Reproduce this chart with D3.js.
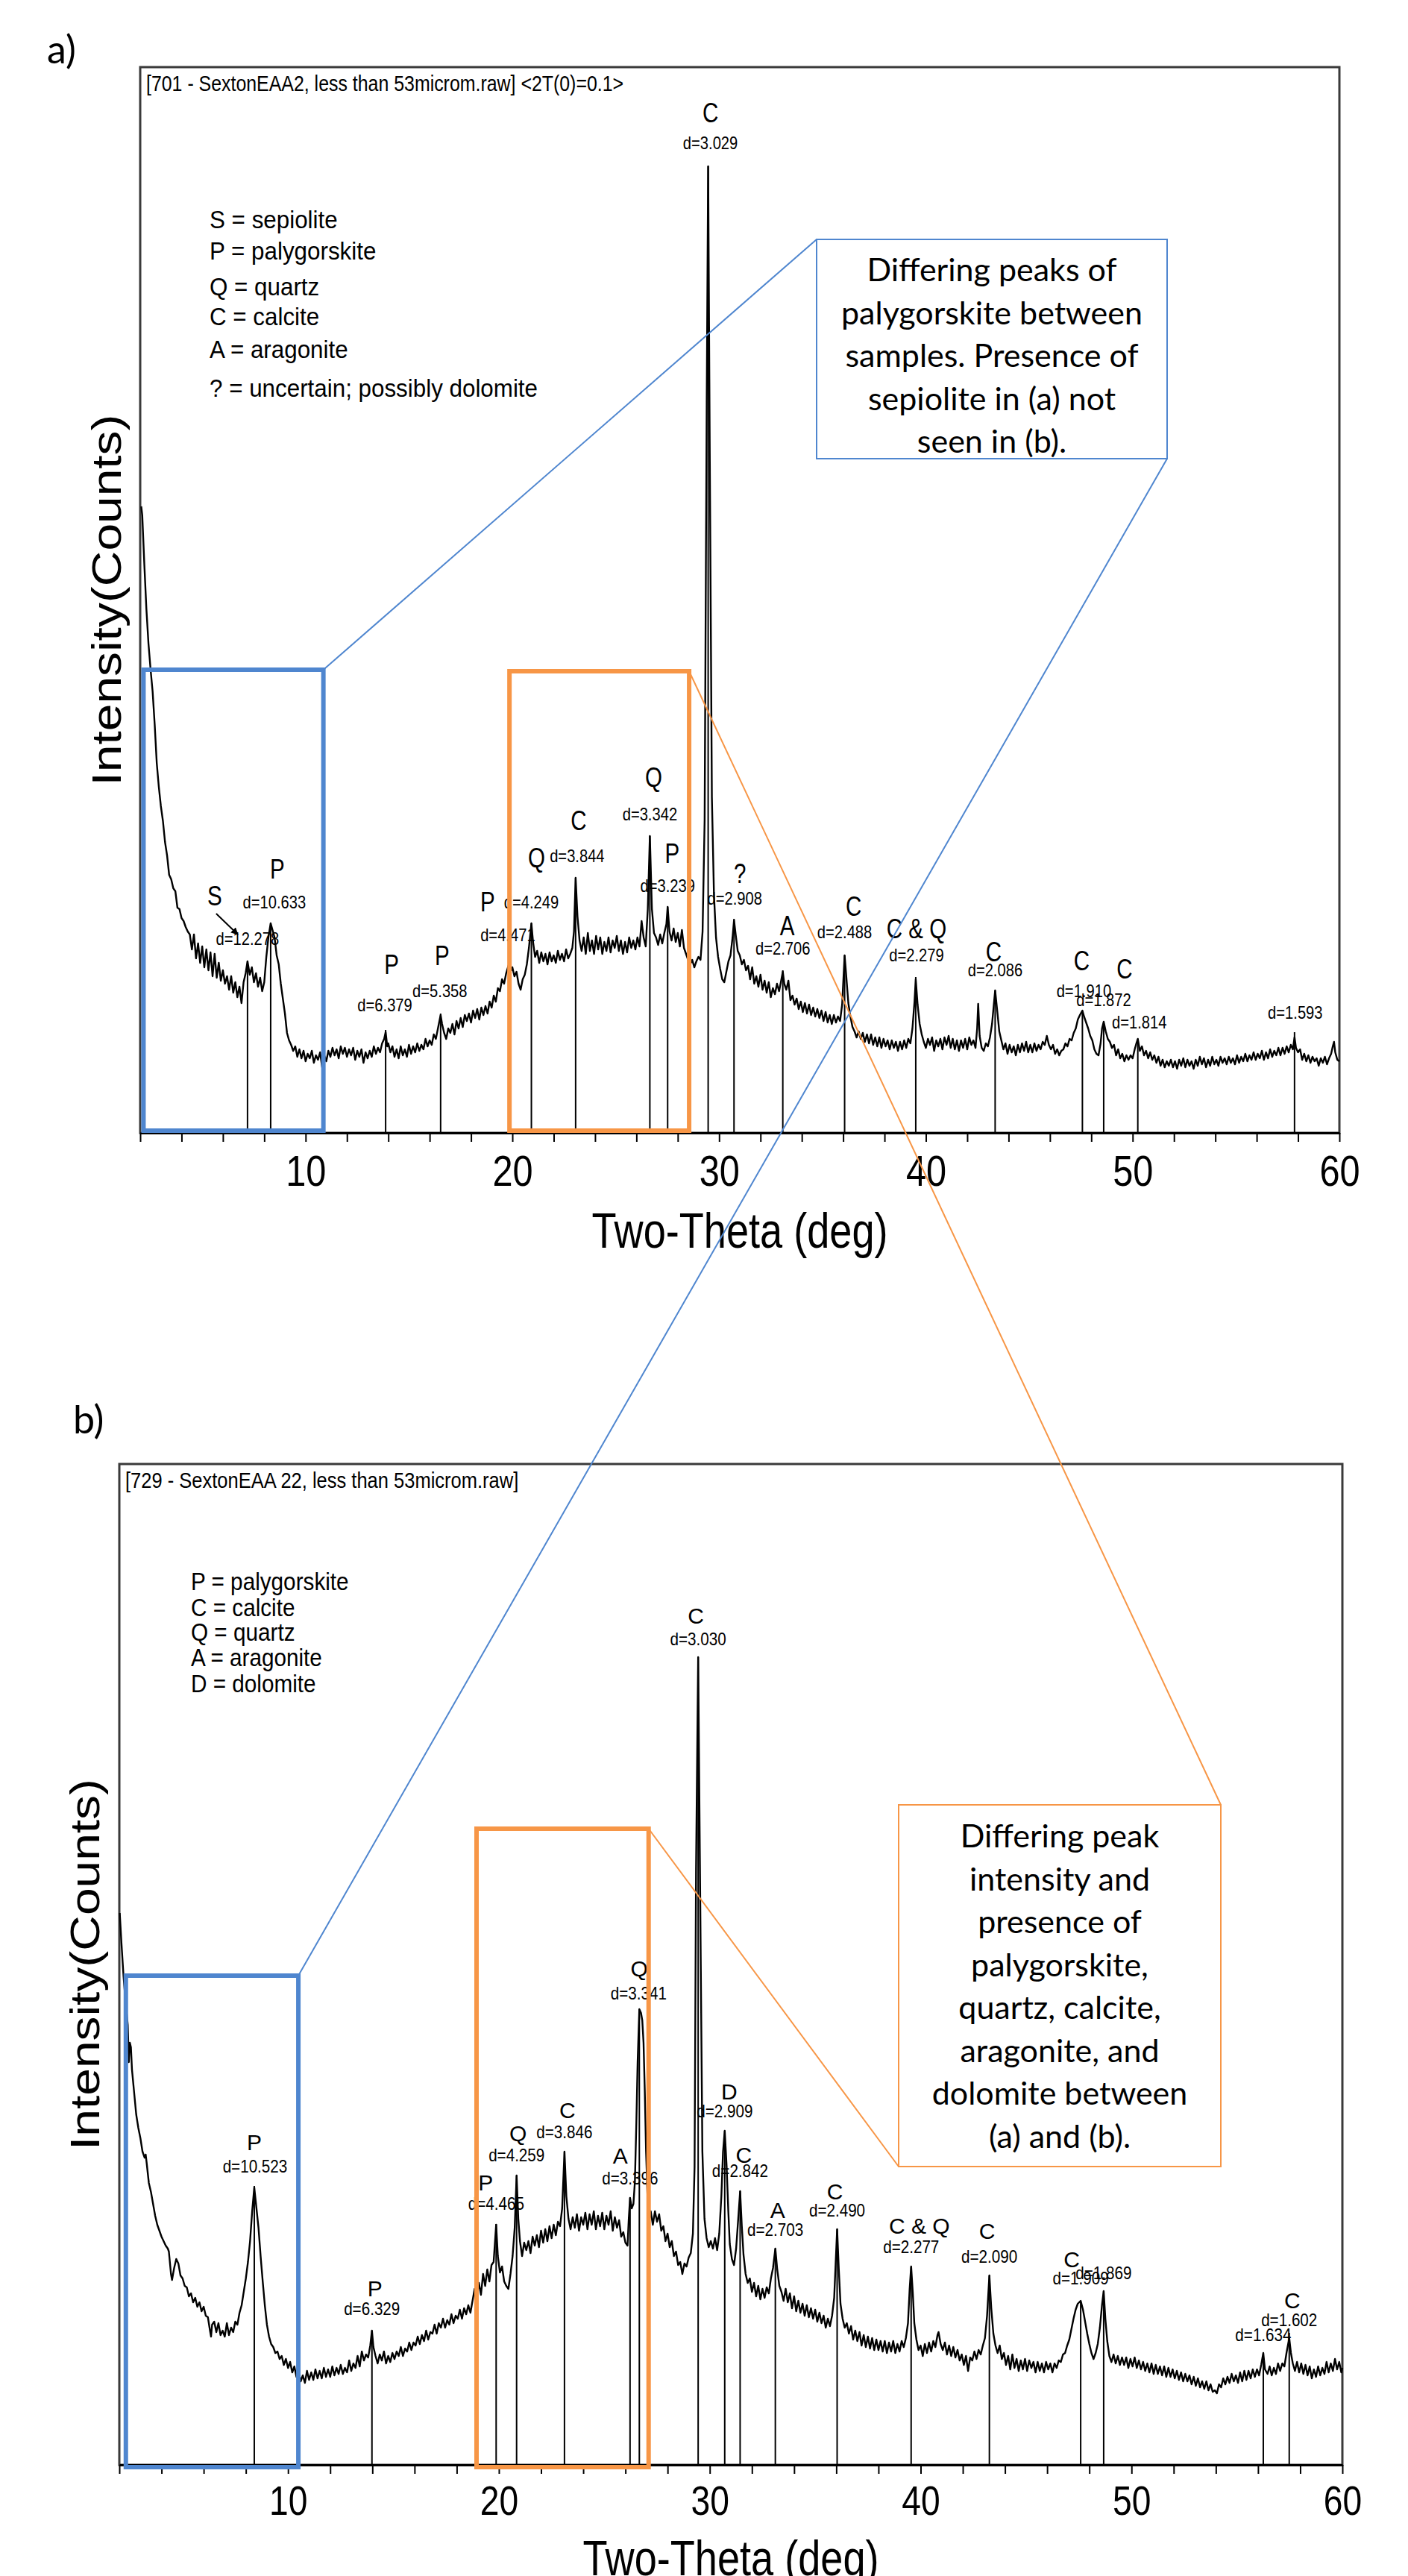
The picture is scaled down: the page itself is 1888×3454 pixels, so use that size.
<!DOCTYPE html>
<html>
<head>
<meta charset="utf-8">
<script src="https://cdn.jsdelivr.net/npm/d3@7"></script>
<style>
  body { margin: 0; background: #fff; }
  svg { display: block; }
</style>
</head>
<body>
<div id="chart"></div>
<script>
// ---- data (counts are arbitrary units) ----
const minorTicks = [2,4,6,8,10,12,14,16,18,20,22,24,26,28,30,32,34,36,38,40,42,44,46,48,50,52,54,56,58,60];
const tickLabels = [10, 20, 30, 40, 50, 60];

// sample a) [2theta, counts]
const scanA = [
  [2.05,840],[2.1,828],[2.2,762],[2.3,702],[2.4,656],[2.5,622],[2.6,592],[2.7,548],[2.8,496],[2.9,464],
  [3.0,438],[3.1,418],[3.2,390],[3.3,372],[3.4,346],[3.5,340],[3.6,328],[3.7,324],[3.8,302],[3.9,300],
  [4.0,288],[4.1,284],[4.2,276],[4.3,270],[4.4,266],[4.5,246],[4.6,266],[4.7,234],[4.8,254],[4.9,228],
  [5.0,250],[5.1,222],[5.2,246],[5.3,218],[5.4,242],[5.5,210],[5.6,240],[5.7,208],[5.8,228],[5.9,204],
  [6.0,218],[6.1,200],[6.2,210],[6.3,192],[6.4,210],[6.5,188],[6.6,202],[6.7,182],[6.8,196],[6.9,174],
  [7.0,202],[7.1,214],[7.19,230],[7.3,212],[7.4,222],[7.5,202],[7.6,214],[7.7,196],[7.8,208],[7.9,190],
  [8.0,202],[8.1,236],[8.2,262],[8.31,281],[8.4,272],[8.5,262],[8.6,238],[8.7,226],[8.8,200],[8.9,180],
  [9.0,160],[9.1,134],[9.2,124],[9.3,118],[9.4,110],[9.5,116],[9.6,102],[9.7,112],[9.8,100],[9.9,110],
  [10.0,96],[10.1,106],[10.2,100],[10.3,110],[10.4,94],[10.5,104],[10.6,98],[10.7,108],[10.8,88],[10.9,104],
  [11.0,96],[11.1,110],[11.2,102],[11.3,114],[11.4,104],[11.5,112],[11.6,100],[11.7,116],[11.8,106],[11.9,114],
  [12.0,102],[12.1,112],[12.2,104],[12.3,114],[12.4,98],[12.5,110],[12.6,102],[12.7,112],[12.8,94],[12.9,108],
  [13.0,100],[13.1,110],[13.2,102],[13.3,116],[13.4,106],[13.5,114],[13.6,108],[13.7,120],[13.8,126],[13.87,135],
  [13.95,116],[14.0,120],[14.1,108],[14.2,116],[14.3,102],[14.4,112],[14.5,100],[14.6,116],[14.7,104],[14.8,112],
  [14.9,102],[15.0,118],[15.1,106],[15.2,116],[15.3,108],[15.4,120],[15.5,110],[15.6,118],[15.7,112],[15.8,126],
  [15.9,116],[16.0,124],[16.1,118],[16.2,132],[16.3,126],[16.4,140],[16.53,158],[16.6,146],[16.7,134],[16.8,126],
  [16.9,140],[17.0,134],[17.1,146],[17.2,132],[17.3,150],[17.4,140],[17.5,154],[17.6,142],[17.7,158],[17.8,150],
  [17.9,160],[18.0,148],[18.1,164],[18.2,154],[18.3,166],[18.4,152],[18.5,168],[18.6,158],[18.7,170],[18.8,160],
  [18.9,176],[19.0,168],[19.1,184],[19.2,176],[19.3,194],[19.4,190],[19.5,206],[19.6,200],[19.7,214],[19.85,228],
  [19.95,218],[20.0,222],[20.1,210],[20.2,216],[20.3,200],[20.4,192],[20.5,206],[20.6,212],[20.7,226],[20.8,248],
  [20.92,281],[21.0,256],[21.1,236],[21.2,244],[21.3,228],[21.4,242],[21.5,230],[21.6,240],[21.7,226],[21.8,242],
  [21.9,230],[22.0,238],[22.1,228],[22.2,244],[22.3,232],[22.4,240],[22.5,230],[22.6,246],[22.7,234],[22.8,240],
  [22.9,248],[22.98,270],[23.06,342],[23.15,290],[23.25,258],[23.35,244],[23.45,262],[23.55,240],[23.65,268],[23.75,244],
  [23.85,258],[23.95,240],[24.05,264],[24.15,246],[24.25,262],[24.35,240],[24.45,256],[24.55,244],[24.65,262],[24.75,242],
  [24.85,258],[24.95,248],[25.05,264],[25.15,244],[25.25,258],[25.35,240],[25.45,256],[25.55,242],[25.65,262],[25.75,248],
  [25.85,258],[25.95,246],[26.05,262],[26.15,250],[26.25,284],[26.35,262],[26.45,250],[26.55,300],[26.65,398],[26.75,300],
  [26.85,268],[26.95,262],[27.05,252],[27.15,266],[27.25,254],[27.35,268],[27.45,280],[27.51,303],[27.6,270],[27.7,258],
  [27.8,274],[27.9,256],[28.0,268],[28.1,250],[28.2,272],[28.3,248],[28.4,240],[28.5,232],[28.6,226],[28.7,232],
  [28.8,222],[28.9,230],[29.0,236],[29.1,232],[29.2,270],[29.3,420],[29.4,980],[29.47,1296],[29.55,900],[29.65,450],
  [29.75,320],[29.85,262],[29.95,236],[30.05,220],[30.15,206],[30.25,202],[30.35,216],[30.45,230],[30.55,238],[30.65,262],
  [30.72,285],[30.8,266],[30.9,244],[31.0,238],[31.1,226],[31.2,232],[31.3,218],[31.4,224],[31.5,206],[31.6,222],
  [31.7,200],[31.8,210],[31.9,196],[32.0,212],[32.1,192],[32.2,204],[32.3,188],[32.4,202],[32.5,182],[32.6,194],
  [32.7,186],[32.8,200],[32.9,190],[33.0,204],[33.08,216],[33.15,200],[33.25,192],[33.35,204],[33.45,178],[33.55,184],
  [33.65,172],[33.75,180],[33.85,166],[33.95,176],[34.05,162],[34.15,174],[34.25,160],[34.35,172],[34.45,158],[34.55,168],
  [34.65,156],[34.75,166],[34.85,154],[34.95,164],[35.05,150],[35.15,162],[35.25,148],[35.35,158],[35.45,146],[35.55,158],
  [35.65,148],[35.75,156],[35.85,150],[35.95,172],[36.07,238],[36.15,210],[36.25,174],[36.35,156],[36.45,142],[36.55,136],
  [36.65,128],[36.75,136],[36.85,126],[36.95,134],[37.05,122],[37.15,132],[37.25,120],[37.35,132],[37.45,118],[37.55,128],
  [37.65,116],[37.75,128],[37.85,114],[37.95,126],[38.05,116],[38.15,124],[38.25,112],[38.35,124],[38.45,114],[38.55,122],
  [38.65,110],[38.75,122],[38.85,112],[38.95,124],[39.05,114],[39.15,126],[39.25,120],[39.35,140],[39.45,176],[39.51,206],
  [39.6,172],[39.7,146],[39.8,132],[39.9,122],[40.0,114],[40.1,126],[40.2,118],[40.3,128],[40.4,110],[40.5,124],
  [40.6,116],[40.7,126],[40.8,112],[40.9,128],[41.0,118],[41.1,130],[41.2,114],[41.3,126],[41.4,112],[41.5,124],
  [41.6,110],[41.7,124],[41.8,114],[41.9,126],[42.0,112],[42.1,128],[42.2,118],[42.3,124],[42.4,114],[42.48,140],
  [42.53,173],[42.6,130],[42.7,114],[42.8,110],[42.9,120],[43.0,116],[43.1,128],[43.2,146],[43.28,170],[43.35,191],
  [43.45,164],[43.55,136],[43.65,124],[43.75,112],[43.85,120],[43.95,106],[44.05,118],[44.15,108],[44.25,116],[44.35,104],
  [44.45,118],[44.55,108],[44.65,120],[44.75,110],[44.85,122],[44.95,108],[45.05,118],[45.15,108],[45.25,120],[45.35,110],
  [45.45,118],[45.55,112],[45.65,122],[45.75,118],[45.85,130],[45.95,118],[46.05,112],[46.15,118],[46.25,106],[46.35,112],
  [46.45,104],[46.55,110],[46.65,112],[46.75,120],[46.85,116],[46.95,126],[47.05,124],[47.15,134],[47.25,140],[47.35,152],
  [47.45,158],[47.57,164],[47.65,156],[47.75,148],[47.85,140],[47.95,130],[48.05,124],[48.15,112],[48.25,106],[48.35,104],
  [48.45,120],[48.52,140],[48.6,149],[48.7,136],[48.8,126],[48.9,122],[49.0,114],[49.1,118],[49.2,104],[49.3,112],
  [49.4,100],[49.5,106],[49.6,96],[49.7,104],[49.8,98],[49.9,104],[50.0,100],[50.1,112],[50.18,120],[50.25,126],
  [50.35,110],[50.45,116],[50.55,104],[50.65,110],[50.75,100],[50.85,108],[50.95,98],[51.05,104],[51.15,94],[51.25,102],
  [51.35,90],[51.45,98],[51.55,88],[51.65,96],[51.75,90],[51.85,98],[51.95,88],[52.05,96],[52.15,86],[52.25,98],
  [52.35,90],[52.45,100],[52.55,88],[52.65,98],[52.75,90],[52.85,96],[52.95,86],[53.05,98],[53.15,90],[53.25,102],
  [53.35,92],[53.45,100],[53.55,88],[53.65,98],[53.75,90],[53.85,102],[53.95,92],[54.05,98],[54.15,90],[54.25,102],
  [54.35,94],[54.45,100],[54.55,92],[54.65,102],[54.75,94],[54.85,100],[54.95,92],[55.05,104],[55.15,94],[55.25,102],
  [55.35,96],[55.45,106],[55.55,96],[55.65,104],[55.75,98],[55.85,108],[55.95,98],[56.05,106],[56.15,100],[56.25,110],
  [56.35,98],[56.45,108],[56.55,100],[56.65,112],[56.75,102],[56.85,110],[56.95,104],[57.05,114],[57.15,104],[57.25,114],
  [57.35,106],[57.45,116],[57.55,108],[57.65,118],[57.75,112],[57.83,128],[57.9,114],[58.0,108],[58.1,112],[58.2,98],
  [58.3,106],[58.4,96],[58.5,104],[58.6,94],[58.7,102],[58.8,96],[58.9,100],[59.0,90],[59.1,100],[59.2,94],
  [59.3,102],[59.4,92],[59.5,100],[59.6,106],[59.68,116],[59.74,122],[59.8,108],[59.9,98],[60.0,96]
];
const peakThetaA = [7.19, 8.31, 13.87, 16.53, 19.85, 20.92, 23.06, 26.65, 27.51, 29.47, 30.72, 33.08, 36.07, 39.51, 43.35, 47.57, 48.6, 50.25, 57.83];
const peakCountsA = [230, 281, 138, 160, 232, 281, 342, 398, 303, 1296, 287, 218, 238, 209, 191, 164, 149, 126, 135];
const peakPhaseA = ["S", "P", "P", "P", "P", "Q", "C", "Q", "P", "C", "?", "A", "C", "C & Q", "C", "C", "C", "", ""];
const peakDA = ["12.278", "10.633", "6.379", "5.358", "4.471", "4.249", "3.844", "3.342", "3.239", "3.029", "2.908", "2.706", "2.488", "2.279", "2.086", "1.910", "1.872", "1.814", "1.593"];
const legendA = ["S = sepiolite", "P = palygorskite", "Q = quartz", "C = calcite", "A = aragonite", "? = uncertain; possibly dolomite"];
const titleA = "[701 - SextonEAA2, less than 53microm.raw] <2T(0)=0.1>";
const calloutTextA = ["Differing peaks of", "palygorskite between", "samples. Presence of", "sepiolite in (a) not", "seen in (b)."];

// sample b) [2theta, counts]
const scanB = [
  [2.02,740],[2.1,700],[2.2,655],[2.3,620],[2.4,590],[2.45,540],[2.5,566],[2.55,560],[2.6,530],[2.7,500],
  [2.8,470],[2.9,452],[3.0,438],[3.1,420],[3.2,412],[3.25,416],[3.3,404],[3.4,378],[3.5,366],[3.6,350],
  [3.7,334],[3.8,322],[3.9,314],[4.0,306],[4.1,300],[4.2,294],[4.3,290],[4.35,286],[4.45,256],[4.5,248],
  [4.6,264],[4.7,276],[4.8,270],[4.9,254],[5.0,250],[5.1,240],[5.2,238],[5.3,226],[5.4,230],[5.5,218],
  [5.6,224],[5.7,212],[5.8,218],[5.9,206],[6.0,212],[6.1,200],[6.2,198],[6.3,180],[6.35,172],[6.4,188],
  [6.5,192],[6.6,178],[6.7,190],[6.8,174],[6.9,180],[7.0,172],[7.1,190],[7.2,174],[7.3,184],[7.4,178],
  [7.5,192],[7.6,188],[7.7,204],[7.8,214],[7.9,232],[8.0,250],[8.1,272],[8.2,300],[8.3,340],[8.4,372],
  [8.5,345],[8.6,318],[8.7,280],[8.8,246],[8.9,214],[9.0,188],[9.1,172],[9.2,162],[9.3,158],[9.4,150],
  [9.5,152],[9.6,142],[9.7,146],[9.8,134],[9.9,142],[10.0,130],[10.1,138],[10.2,124],[10.3,132],[10.4,118],
  [10.5,126],[10.6,112],[10.7,120],[10.8,110],[10.9,126],[11.0,114],[11.1,124],[11.2,114],[11.3,128],[11.4,116],
  [11.5,126],[11.6,116],[11.7,130],[11.8,118],[11.9,128],[12.0,118],[12.1,132],[12.2,120],[12.3,130],[12.4,122],
  [12.5,134],[12.6,122],[12.7,130],[12.8,124],[12.9,140],[13.0,126],[13.1,136],[13.2,130],[13.3,146],[13.4,132],
  [13.5,152],[13.6,140],[13.7,148],[13.8,144],[13.9,160],[13.98,180],[14.05,158],[14.15,146],[14.25,136],[14.35,148],
  [14.45,140],[14.55,152],[14.65,136],[14.75,146],[14.85,138],[14.95,150],[15.05,142],[15.15,152],[15.25,146],[15.35,158],
  [15.45,146],[15.55,156],[15.65,152],[15.75,164],[15.85,154],[15.95,164],[16.05,160],[16.15,172],[16.25,162],[16.35,174],
  [16.45,166],[16.55,180],[16.65,168],[16.75,178],[16.85,176],[16.95,188],[17.05,176],[17.15,190],[17.25,184],[17.35,196],
  [17.45,184],[17.55,194],[17.65,188],[17.75,202],[17.85,190],[17.95,200],[18.05,196],[18.15,208],[18.25,196],[18.35,210],
  [18.45,202],[18.55,214],[18.65,204],[18.75,220],[18.85,236],[18.95,226],[19.05,244],[19.15,228],[19.25,256],[19.35,240],
  [19.45,262],[19.55,246],[19.65,268],[19.75,272],[19.87,322],[19.95,280],[20.05,258],[20.15,266],[20.25,246],[20.35,240],
  [20.45,236],[20.55,256],[20.65,280],[20.75,318],[20.84,388],[20.92,330],[21.0,300],[21.1,280],[21.2,298],[21.3,288],
  [21.4,300],[21.5,284],[21.6,306],[21.7,294],[21.8,308],[21.9,292],[22.0,314],[22.1,298],[22.2,316],[22.3,300],
  [22.4,320],[22.5,304],[22.6,322],[22.7,308],[22.8,326],[22.9,320],[23.0,344],[23.11,420],[23.2,360],[23.3,330],
  [23.4,316],[23.5,332],[23.6,318],[23.7,336],[23.8,314],[23.9,332],[24.0,322],[24.1,338],[24.2,316],[24.3,336],
  [24.4,322],[24.5,340],[24.6,316],[24.7,334],[24.8,320],[24.9,338],[25.0,316],[25.1,334],[25.2,322],[25.3,340],
  [25.4,314],[25.5,332],[25.6,318],[25.7,328],[25.8,306],[25.9,312],[26.0,298],[26.1,294],[26.16,330],[26.22,358],
  [26.3,344],[26.38,350],[26.45,380],[26.52,460],[26.58,540],[26.66,611],[26.74,606],[26.8,596],[26.86,566],[26.92,500],
  [26.98,420],[27.05,360],[27.12,326],[27.2,340],[27.3,322],[27.4,340],[27.5,326],[27.6,336],[27.7,314],[27.8,320],
  [27.9,300],[28.0,310],[28.1,292],[28.2,300],[28.3,280],[28.4,286],[28.5,268],[28.6,272],[28.7,256],[28.8,270],
  [28.9,266],[29.0,278],[29.1,284],[29.2,310],[29.28,400],[29.35,800],[29.45,1083],[29.55,750],[29.65,420],[29.75,330],
  [29.85,304],[29.95,292],[30.05,300],[30.15,290],[30.25,304],[30.35,288],[30.45,310],[30.55,360],[30.63,420],[30.71,448],
  [30.8,400],[30.88,340],[30.95,296],[31.05,276],[31.15,268],[31.25,290],[31.35,330],[31.44,367],[31.52,320],[31.6,282],
  [31.7,256],[31.8,244],[31.9,250],[32.0,232],[32.1,244],[32.2,226],[32.3,240],[32.4,222],[32.5,236],[32.6,224],
  [32.7,238],[32.8,230],[32.9,250],[33.0,264],[33.11,290],[33.2,262],[33.3,240],[33.4,232],[33.5,220],[33.6,236],
  [33.7,218],[33.8,230],[33.9,210],[34.0,226],[34.1,206],[34.2,220],[34.3,204],[34.4,216],[34.5,200],[34.6,214],
  [34.7,198],[34.8,210],[34.9,196],[35.0,208],[35.1,192],[35.2,204],[35.3,190],[35.4,200],[35.5,184],[35.6,196],
  [35.7,186],[35.8,200],[35.9,224],[35.97,270],[36.04,316],[36.12,262],[36.2,216],[36.3,196],[36.4,184],[36.5,190],
  [36.6,176],[36.7,186],[36.8,168],[36.9,180],[37.0,166],[37.1,178],[37.2,160],[37.3,174],[37.4,158],[37.5,172],
  [37.6,156],[37.7,170],[37.8,154],[37.9,168],[38.0,154],[38.1,166],[38.2,152],[38.3,166],[38.4,150],[38.5,164],
  [38.6,152],[38.7,166],[38.8,150],[38.9,162],[39.0,152],[39.1,166],[39.2,158],[39.3,170],[39.4,190],[39.48,236],
  [39.55,266],[39.63,230],[39.7,190],[39.8,168],[39.9,154],[40.0,160],[40.1,146],[40.2,162],[40.3,150],[40.4,164],
  [40.5,152],[40.6,166],[40.7,158],[40.8,174],[40.85,178],[40.95,162],[41.05,154],[41.15,164],[41.25,148],[41.35,160],
  [41.45,146],[41.55,158],[41.65,144],[41.75,154],[41.85,140],[41.95,148],[42.05,134],[42.15,146],[42.25,126],[42.35,144],
  [42.45,140],[42.55,152],[42.65,142],[42.75,154],[42.85,148],[42.95,160],[43.05,170],[43.15,200],[43.26,254],[43.35,210],
  [43.45,176],[43.55,160],[43.65,150],[43.75,160],[43.85,142],[43.95,150],[44.05,134],[44.15,146],[44.25,128],[44.35,148],
  [44.45,130],[44.55,142],[44.65,126],[44.75,140],[44.85,128],[44.95,142],[45.05,126],[45.15,140],[45.25,130],[45.35,138],
  [45.45,124],[45.55,138],[45.65,126],[45.75,136],[45.85,124],[45.95,138],[46.05,128],[46.15,136],[46.25,124],[46.35,136],
  [46.45,130],[46.55,140],[46.65,138],[46.75,148],[46.85,150],[46.95,160],[47.05,168],[47.15,182],[47.25,196],[47.35,208],
  [47.45,216],[47.59,220],[47.7,208],[47.8,192],[47.9,176],[48.0,162],[48.1,150],[48.2,142],[48.3,150],[48.4,162],
  [48.5,184],[48.6,214],[48.68,233],[48.76,196],[48.85,166],[48.95,146],[49.05,138],[49.15,148],[49.25,136],[49.35,146],
  [49.45,134],[49.55,144],[49.65,134],[49.75,144],[49.85,130],[49.95,142],[50.05,132],[50.15,144],[50.25,130],[50.35,140],
  [50.45,128],[50.55,138],[50.65,126],[50.75,136],[50.85,124],[50.95,136],[51.05,122],[51.15,134],[51.25,122],[51.35,132],
  [51.45,120],[51.55,132],[51.65,118],[51.75,130],[51.85,118],[51.95,128],[52.05,116],[52.15,126],[52.25,114],[52.35,124],
  [52.45,112],[52.55,122],[52.65,112],[52.75,120],[52.85,108],[52.95,118],[53.05,106],[53.15,116],[53.25,104],[53.35,112],
  [53.45,102],[53.55,112],[53.65,100],[53.75,108],[53.85,98],[53.95,100],[54.05,96],[54.15,108],[54.25,104],[54.35,116],
  [54.45,108],[54.55,118],[54.65,110],[54.75,122],[54.85,112],[54.95,120],[55.05,110],[55.15,124],[55.25,112],[55.35,126],
  [55.45,114],[55.55,126],[55.65,116],[55.75,128],[55.85,118],[55.95,128],[56.05,120],[56.15,134],[56.25,150],[56.33,128],
  [56.45,122],[56.55,132],[56.65,120],[56.75,130],[56.85,122],[56.95,136],[57.05,126],[57.15,136],[57.25,132],[57.35,150],
  [57.48,170],[57.56,150],[57.65,136],[57.75,126],[57.85,138],[57.95,124],[58.05,136],[58.15,122],[58.25,134],[58.35,120],
  [58.45,132],[58.55,116],[58.65,128],[58.75,118],[58.85,132],[58.95,120],[59.05,130],[59.15,122],[59.25,138],[59.35,124],
  [59.45,136],[59.55,126],[59.65,142],[59.75,128],[59.85,138],[59.95,124],[60.0,130]
];
const peakThetaB = [8.40, 13.98, 19.87, 20.84, 23.11, 26.22, 26.66, 29.45, 30.71, 31.44, 33.11, 36.04, 39.55, 43.26, 47.59, 48.68, 56.25, 57.48];
const peakCountsB = [374, 180, 323, 388, 420, 358, 611, 1083, 448, 367, 290, 316, 265, 254, 219, 233, 149, 177];
const peakPhaseB = ["P", "P", "P", "Q", "C", "A", "Q", "C", "D", "C", "A", "C", "C & Q", "C", "C", "", "", "C"];
const peakDB = ["10.523", "6.329", "4.465", "4.259", "3.846", "3.396", "3.341", "3.030", "2.909", "2.842", "2.703", "2.490", "2.277", "2.090", "1.909", "1.869", "1.634", "1.602"];
const legendB = ["P = palygorskite", "C = calcite", "Q = quartz", "A = aragonite", "D = dolomite"];
const titleB = "[729 - SextonEAA 22, less than 53microm.raw]";
const calloutTextB = ["Differing peak", "intensity and", "presence of", "palygorskite,", "quartz, calcite,", "aragonite, and", "dolomite between", "(a) and (b)."];

// ---- layout (pixels) ----
const W = 1888, H = 3454;
const SANS = "'Liberation Sans', Arial, sans-serif";
const CALIBRI = "Lato, 'Open Sans', sans-serif";
const BLUE = "#4f86cf";
const ORANGE = "#f79646";

// no narrow face installed: squeeze the text to the width it has in the picture
function squeeze(sel, factor) {
  sel.each(function () {
    const len = this.getComputedTextLength();
    d3.select(this).attr("textLength", len * factor).attr("lengthAdjust", "spacingAndGlyphs");
  });
}

// label nudges relative to stick top: [letter dx, letter dy, d dx, d dy]
const nudgeA = [[-44,-88,0,-31],[9,-73,5,-29],[8,-88,-1,-34],[2,-78,-1,-31],[-29,-78,-2,-34],[7,-88,0,-29],
  [4,-77,2,-30],[5,-79,0,-30],[6,-72,0,-29],[3,-72,3,-32],[8,-61,1,-28],[6,-60,0,-30],[12,-66,0,-32],
  [1,-65,1,-30],[-2,-52,0,-28],[-1,-67,2,-27],[28,-71,0,-30],[0,0,2,-23],[0,0,1,-27]];
const nudgeB = [[0,-59,1,-27],[4,-57,0,-30],[-14,-56,0,-28],[2,-57,0,-28],[4,-56,0,-27],[-13,-57,0,-27],
  [0,-55,-1,-22],[-3,-56,0,-25],[6,-53,0,-27],[5,-49,0,-28],[3,-52,0,-26],[-3,-51,0,-26],[11,-56,0,-28],
  [-3,-60,0,-26],[-12,-57,0,-32],[0,0,0,-25],[0,0,0,-26],[4,-44,0,-18]];

const panels = [
  { key: "a", scan: scanA, theta: peakThetaA, counts: peakCountsA, phase: peakPhaseA, dval: peakDA,
    nudge: nudgeA, legend: legendA, legendBase: [216, 258, 306, 346, 390, 442], legendX: 93, legendSqueeze: 0.95,
    title: titleA, titleSqueeze: 0.83, left: 188, right: 1796, top: 90, bottom: 1519, yMax: 1429,
    letterSize: 36, letterSqueeze: 0.82, dSize: 24, dSqueeze: 0.84, tickSize: 58, tickPad: 18,
    panelLabel: "a)", panelLabelPos: [63, 85], yLabelX: 162, xLabelY: 1673,
    boxes: [{from: 2.16, to: 10.86, top: 621, bot: 3, color: BLUE}, {from: 19.86, to: 28.55, top: 619, bot: 3, color: ORANGE}] },
  { key: "b", scan: scanB, theta: peakThetaB, counts: peakCountsB, phase: peakPhaseB, dval: peakDB,
    nudge: nudgeB, legend: legendB, legendBase: [169, 204, 237, 271, 306], legendX: 96, legendSqueeze: 0.9,
    title: titleB, titleSqueeze: 0.85, left: 160, right: 1800, top: 1963, bottom: 3305, yMax: 1342,
    letterSize: 30, letterSqueeze: 1, dSize: 24, dSqueeze: 0.86, tickSize: 55, tickPad: 16,
    panelLabel: "b)", panelLabelPos: [98, 1922], yLabelX: 133, xLabelY: 3453,
    boxes: [{from: 2.31, to: 10.49, top: 656, bot: -3, color: BLUE}, {from: 18.94, to: 27.1, top: 853, bot: -3, color: ORANGE}] }
];

const svg = d3.select("#chart").append("svg")
  .attr("width", W).attr("height", H)
  .style("background", "#fff");

svg.append("defs").append("marker")
  .attr("id", "arrowhead").attr("viewBox", "0 0 10 10")
  .attr("refX", 9).attr("refY", 5).attr("markerWidth", 5).attr("markerHeight", 5)
  .attr("orient", "auto")
  .append("path").attr("d", "M0,0 L10,5 L0,10 Z").attr("fill", "#000");

const boxCorners = {};

panels.forEach(p => {
  const x = d3.scaleLinear().domain([2, 60]).range([p.left, p.right]);
  const y = d3.scaleLinear().domain([0, p.yMax]).range([p.bottom, p.top]);
  const g = svg.append("g").attr("class", "panel-" + p.key);

  // panel letter
  g.append("text")
    .attr("x", p.panelLabelPos[0]).attr("y", p.panelLabelPos[1])
    .style("font-family", CALIBRI).style("font-size", "52px")
    .text(p.panelLabel);

  // frame
  g.append("rect")
    .attr("x", p.left).attr("y", p.top)
    .attr("width", p.right - p.left).attr("height", p.bottom - p.top)
    .attr("fill", "none").attr("stroke", "#3a3a3a").attr("stroke-width", 3);

  // title + legend
  g.append("text")
    .attr("x", p.left + 8).attr("y", p.top + 32)
    .style("font-family", SANS).style("font-size", "30px")
    .text(p.title)
    .call(squeeze, p.titleSqueeze);
  g.selectAll(".legend").data(p.legend).join("text")
    .attr("class", "legend")
    .attr("x", p.left + p.legendX)
    .attr("y", (d, i) => p.top + p.legendBase[i])
    .style("font-family", SANS).style("font-size", "33px")
    .text(d => d)
    .call(squeeze, p.legendSqueeze);

  // x axis
  const axis = d3.axisBottom(x)
    .tickValues(minorTicks)
    .tickSize(12).tickSizeOuter(0).tickPadding(p.tickPad)
    .tickFormat(d => tickLabels.includes(d) ? d : "");
  const ax = g.append("g").attr("transform", `translate(0,${p.bottom})`).call(axis);
  ax.select(".domain").attr("stroke", "#000").attr("stroke-width", 3);
  ax.selectAll(".tick line").attr("stroke", "#000").attr("stroke-width", 2);
  ax.selectAll(".tick text")
    .attr("fill", "#000")
    .style("font-family", SANS).style("font-size", p.tickSize + "px")
    .filter(d => tickLabels.includes(d))
    .call(squeeze, 0.84);

  // axis titles
  g.append("text")
    .attr("x", (p.left + p.right) / 2).attr("y", p.xLabelY)
    .attr("text-anchor", "middle")
    .style("font-family", SANS).style("font-size", "66px")
    .text("Two-Theta (deg)")
    .call(squeeze, 0.82);
  g.append("text")
    .attr("transform", `translate(${p.yLabelX},${(p.top + p.bottom) / 2}) rotate(-90)`)
    .attr("text-anchor", "middle")
    .attr("textLength", 498).attr("lengthAdjust", "spacingAndGlyphs")
    .style("font-family", SANS).style("font-size", "56px")
    .text("Intensity(Counts)");

  // scan trace
  const line = d3.line().x(d => x(d[0])).y(d => y(d[1]));
  g.append("path")
    .datum(p.scan)
    .attr("d", line)
    .attr("fill", "none").attr("stroke", "#000")
    .attr("stroke-width", 2.4).attr("stroke-linejoin", "round");

  // peak sticks
  g.selectAll(".stick").data(p.theta).join("line")
    .attr("class", "stick")
    .attr("x1", d => x(d)).attr("x2", d => x(d))
    .attr("y1", y(0)).attr("y2", (d, i) => y(p.counts[i]))
    .attr("stroke", "#000").attr("stroke-width", 2);

  // peak labels
  p.theta.forEach((t, i) => {
    const px = x(t), py = y(p.counts[i]), n = p.nudge[i];
    if (p.phase[i]) {
      g.append("text")
        .attr("x", px + n[0]).attr("y", py + n[1]).attr("dy", "0.36em")
        .attr("text-anchor", "middle")
        .style("font-family", SANS).style("font-size", p.letterSize + "px")
        .text(p.phase[i])
        .call(squeeze, p.letterSqueeze);
    }
    g.append("text")
      .attr("x", px + n[2]).attr("y", py + n[3]).attr("dy", "0.36em")
      .attr("text-anchor", "middle")
      .style("font-family", SANS).style("font-size", p.dSize + "px")
      .text("d=" + p.dval[i])
      .call(squeeze, p.dSqueeze);
  });

  // zoom boxes
  p.boxes.forEach((b, j) => {
    const x0 = x(b.from), x1 = x(b.to), y0 = y(b.top), y1 = y(b.bot);
    g.append("rect")
      .attr("x", x0).attr("y", y0).attr("width", x1 - x0).attr("height", y1 - y0)
      .attr("fill", "none").attr("stroke", b.color).attr("stroke-width", 6);
    boxCorners[p.key + j] = [x1, y0];
  });

  // arrow for the sepiolite label
  if (p.key === "a") {
    const sx = x(peakThetaA[0]), sy = y(peakCountsA[0]);
    g.append("line")
      .attr("x1", sx - 42).attr("y1", sy - 64).attr("x2", sx - 13).attr("y2", sy - 36)
      .attr("stroke", "#000").attr("stroke-width", 2).attr("marker-end", "url(#arrowhead)");
  }
});

// ---- call-out boxes and connectors ----
const calloutA = { x: 1095, y: 321, w: 470, h: 294, color: BLUE, lines: calloutTextA, base: 377 };
const calloutB = { x: 1205, y: 2420, w: 432, h: 485, color: ORANGE, lines: calloutTextB, base: 2477 };

const conn = svg.append("g").attr("fill", "none").attr("stroke-width", 2);
const connectors = [
  [boxCorners.a0, [calloutA.x, calloutA.y], BLUE],
  [[calloutA.x + calloutA.w, calloutA.y + calloutA.h], boxCorners.b0, BLUE],
  [boxCorners.a1, [calloutB.x + calloutB.w, calloutB.y], ORANGE],
  [boxCorners.b1, [calloutB.x, calloutB.y + calloutB.h], ORANGE]
];
conn.selectAll("line").data(connectors).join("line")
  .attr("x1", d => d[0][0]).attr("y1", d => d[0][1])
  .attr("x2", d => d[1][0]).attr("y2", d => d[1][1])
  .attr("stroke", d => d[2]);

[calloutA, calloutB].forEach(c => {
  const cg = svg.append("g");
  cg.append("rect")
    .attr("x", c.x).attr("y", c.y).attr("width", c.w).attr("height", c.h)
    .attr("fill", "#fff").attr("stroke", c.color).attr("stroke-width", 2);
  cg.selectAll("text").data(c.lines).join("text")
    .attr("x", c.x + c.w / 2)
    .attr("y", (d, i) => c.base + i * 57.5)
    .attr("text-anchor", "middle")
    .style("font-family", CALIBRI).style("font-size", "43px")
    .text(d => d);
});
</script>
</body>
</html>
